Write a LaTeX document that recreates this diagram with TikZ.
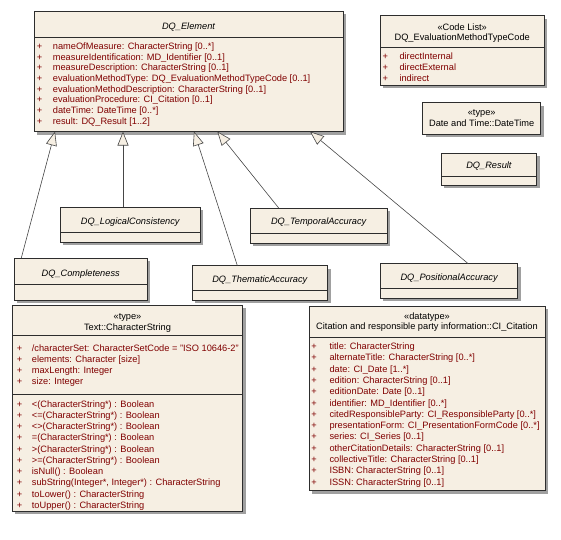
\documentclass[tikz,border=0pt]{standalone}
\usepackage{fontspec}
\setmainfont{Liberation Sans}
\usetikzlibrary{arrows.meta,calc}
\definecolor{boxfill}{RGB}{246,239,227}
\definecolor{attrred}{RGB}{128,0,0}
\definecolor{edgec}{RGB}{45,45,45}
\definecolor{linec}{RGB}{70,70,70}
\definecolor{shadowc}{RGB}{160,160,160}
\newcommand{\umlfont}{\fontsize{9.25}{10}\selectfont}
\newcommand{\umlclass}[5]{%
  \fill[shd] (#2+3,#3+3) rectangle (#4+3,#5+3);
  \node[cls, anchor=north west, minimum width=#4-#2, minimum height=#5-#3] (#1) at (#2,#3) {};}
\newcommand{\umlsep}[3]{\draw[sepl] (#1,#3) -- (#2,#3);}
\begin{document}
\begin{tikzpicture}[x=1pt,y=-1pt,
  cls/.style={draw=edgec, fill=boxfill, line width=0.7pt, rectangle, inner sep=0, outer sep=0},
  shd/.style={fill=shadowc},
  sepl/.style={draw=edgec, line width=0.6pt},
  ttl/.style={font=\umlfont\itshape, inner sep=0, anchor=mid},
  stereo/.style={font=\umlfont, inner sep=0, anchor=mid},
  attr/.style={font=\umlfont, text=attrred, inner sep=0, anchor=mid west},
  plus/.style={font=\umlfont, text=attrred, inner sep=0, anchor=mid},
  gen/.style={draw=linec, line width=0.6pt, -{Triangle[length=14pt,width=11pt,fill=boxfill]}}
]
\useasboundingbox (0,0) rectangle (561,539);

% DQ_Element
\umlclass{elem}{34}{11}{343}{131.5}
\umlsep{34}{343}{37.3}
\node[ttl] (elemT) at (188.5,27) {DQ\_Element};
\foreach \t [count=\i from 0] in {{nameOfMeasure: CharacterString [0..*]},
  {measureIdentification: MD\_Identifier [0..1]},
  {measureDescription: CharacterString [0..1]},
  {evaluationMethodType: DQ\_EvaluationMethodTypeCode [0..1]},
  {evaluationMethodDescription: CharacterString [0..1]},
  {evaluationProcedure: CI\_Citation [0..1]},
  {dateTime: DateTime [0..*]},
  {result: DQ\_Result [1..2]}}{
  \node[plus] (elemP\i) at (39.5,46.7+10.72*\i) {+};
  \node[attr] (elemA\i) at (52.7,46.7+10.72*\i) {\t};
}

% Code list
\umlclass{code}{380}{15.7}{544.3}{85}
\umlsep{380}{544.3}{47.3}
\node[stereo] (codeS) at (462.2,27.7) {«Code List»};
\node[stereo] (codeN) at (462.2,38.3) {DQ\_EvaluationMethodTypeCode};
\foreach \t [count=\i from 0] in {directInternal, directExternal, indirect}{
  \node[plus] (codeP\i) at (385.3,57.3+10.85*\i) {+};
  \node[attr] (codeA\i) at (399.3,57.3+10.85*\i) {\t};
}

% DateTime
\umlclass{dt}{422.7}{102.7}{540.7}{134}
\node[stereo] (dtS) at (481.7,112.7) {«type»};
\node[stereo] (dtN) at (481.7,124) {Date and Time::DateTime};

% DQ_Result
\umlclass{res}{441}{153}{536.7}{185}
\umlsep{441}{536.7}{176}
\node[ttl] (resT) at (488.9,166) {DQ\_Result};

% Subclasses
\umlclass{logi}{60}{207}{200.3}{242.1}
\umlsep{60}{200.3}{232.4}
\node[ttl] (logiT) at (130.2,221.5) {DQ\_LogicalConsistency};

\umlclass{temp}{250}{208}{387.3}{243}
\umlsep{250}{387.3}{233.1}
\node[ttl] (tempT) at (318.7,222.3) {DQ\_TemporalAccuracy};

\umlclass{cmpl}{14.4}{258.3}{147}{300.4}
\umlsep{14.4}{147}{284.2}
\node[ttl] (cmplT) at (80.7,273.5) {DQ\_Completeness};

\umlclass{them}{192}{265.5}{327.6}{300}
\umlsep{192}{327.6}{290.7}
\node[ttl] (themT) at (259.8,279.5) {DQ\_ThematicAccuracy};

\umlclass{posi}{380.4}{263.7}{517.8}{297.9}
\umlsep{380.4}{517.8}{288.2}
\node[ttl] (posiT) at (449.1,277.8) {DQ\_PositionalAccuracy};

% Generalisations
\draw[gen] ($(cmpl.north west)+(6.8,0)$) -- ($(elem.south west)+(21,0)$);
\draw[gen] ($(logi.north west)+(63,0)$) -- ($(elem.south west)+(89,0)$);
\draw[gen] ($(them.north west)+(45.3,0)$) -- ($(elem.south west)+(160,0)$);
\draw[gen] ($(temp.north west)+(28.7,0)$) -- ($(elem.south west)+(183.3,0)$);
\draw[gen] ($(posi.north west)+(87.8,0)$) -- ($(elem.south west)+(276,0)$);

% CharacterString
\umlclass{cs}{12.3}{305}{242.7}{511}
\umlsep{12.3}{242.7}{335.7}
\umlsep{12.3}{242.7}{394.3}
\node[stereo] (csS) at (127.5,316.7) {«type»};
\node[stereo] (csN) at (127.5,328) {Text::CharacterString};
\foreach \t [count=\i from 0] in {{/characterSet: CharacterSetCode = "ISO 10646-2"},
  {elements: Character [size]},
  {maxLength: Integer},
  {size: Integer}}{
  \node[plus] (csP\i) at (19.7,349.3+10.8*\i) {+};
  \node[attr] (csA\i) at (31.7,349.3+10.8*\i) {\t};
}
\foreach \t [count=\i from 0] in {{<(CharacterString*) : Boolean},
  {<=(CharacterString*) : Boolean},
  {<>(CharacterString*) : Boolean},
  {=(CharacterString*) : Boolean},
  {>(CharacterString*) : Boolean},
  {>=(CharacterString*) : Boolean},
  {isNull() : Boolean},
  {subString(Integer*, Integer*) : CharacterString},
  {toLower() : CharacterString},
  {toUpper() : CharacterString}}{
  \node[plus] (csQ\i) at (19.7,404.5+11.25*\i) {+};
  \node[attr] (csO\i) at (31.7,404.5+11.25*\i) {\t};
}

% CI_Citation
\umlclass{cit}{309}{306}{545}{490.7}
\umlsep{309}{545}{337.3}
\node[stereo] (citS) at (427,316.7) {«datatype»};
\node[stereo] (citN) at (427,327.3) {Citation and responsible party information::CI\_Citation};
\foreach \t [count=\i from 0] in {{title: CharacterString},
  {alternateTitle: CharacterString [0..*]},
  {date: CI\_Date [1..*]},
  {edition: CharacterString [0..1]},
  {editionDate: Date [0..1]},
  {identifier: MD\_Identifier [0..*]},
  {citedResponsibleParty: CI\_ResponsibleParty [0..*]},
  {presentationForm: CI\_PresentationFormCode [0..*]},
  {series: CI\_Series [0..1]},
  {otherCitationDetails: CharacterString [0..1]},
  {collectiveTitle: CharacterString [0..1]},
  {ISBN: CharacterString [0..1]},
  {ISSN: CharacterString [0..1]}}{
  \node[plus] (citP\i) at (314,346.7+11.33*\i) {+};
  \node[attr] (citA\i) at (329.3,346.7+11.33*\i) {\t};
}
\end{tikzpicture}
\end{document}
